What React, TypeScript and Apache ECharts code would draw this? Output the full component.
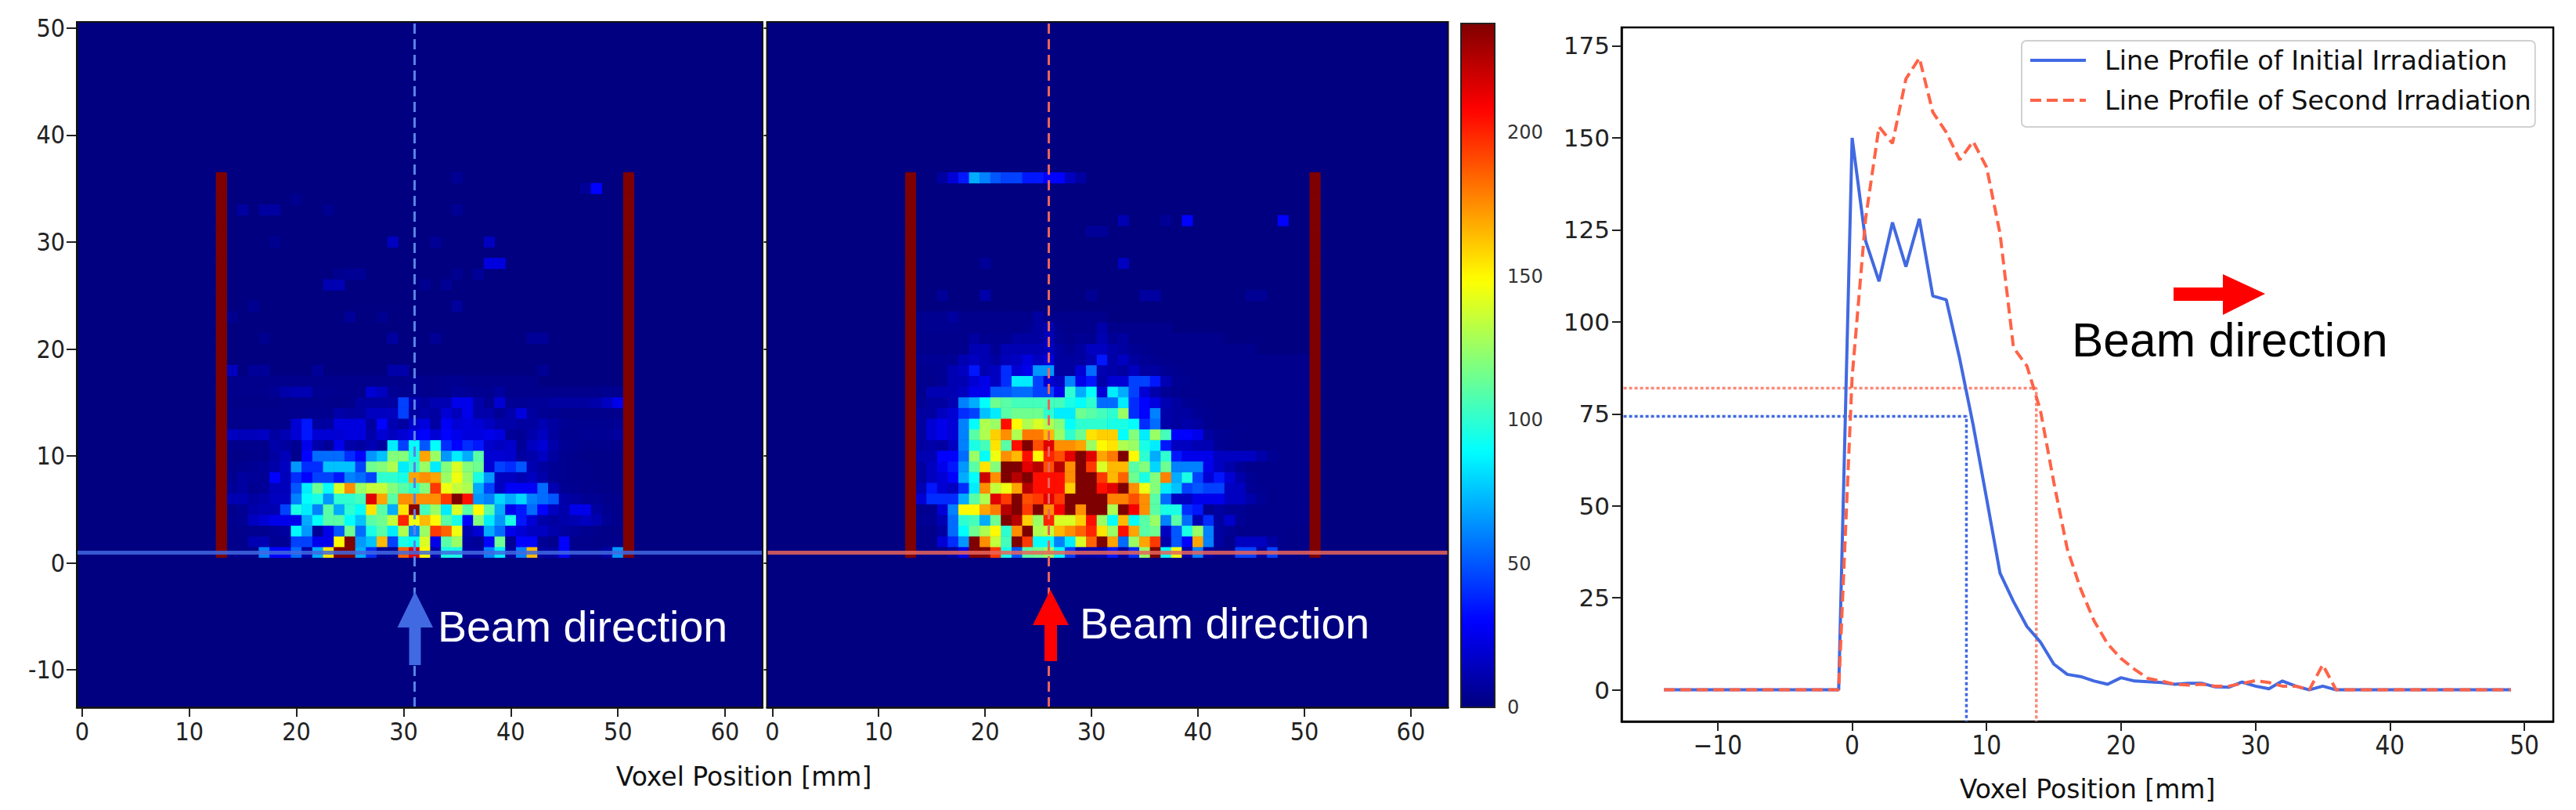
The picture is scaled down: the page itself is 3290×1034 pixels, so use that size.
import React, { useEffect, useRef } from "react";
import * as echarts from "echarts";

const CATEGORIES_X = Array.from({ length: 64 }, (_, i) => String(i));
const CATEGORIES_Y = Array.from({ length: 64 }, (_, i) => String(i - 13));
const HEAT_MAX = 238;
const WALL_COLUMNS = [13, 51];
const WALL_TOP_ROW = 36;
const FIRST_COLUMN = 14;

// rows start at y = 1, first value is column 14
const FIRST_DENSE: number[][] = [
  [3,3,3,60,30,30,55,10,70,155,238,238,70,40,5,5,185,215,150,10,95,95,8,8,60,85,8,60,165,8,8,30,4,4,3,8,65],
  [3,3,12,12,5,5,45,45,25,25,150,238,65,75,165,45,95,90,140,25,110,125,8,5,30,115,5,30,30,5,3,30,3,3,2,2,3],
  [3,3,4,4,6,8,88,65,6,25,50,115,55,95,110,85,130,60,125,195,185,145,12,20,70,55,25,20,15,15,10,8,6,4,3,2,2],
  [4,5,15,20,25,25,25,70,90,110,110,90,75,110,115,135,200,145,165,150,110,95,30,120,85,65,95,35,20,10,8,10,12,15,12,5,3],
  [3,5,10,12,12,45,95,85,60,110,70,100,90,155,110,70,155,235,105,125,85,140,110,150,110,70,25,35,55,30,15,10,25,25,8,4,3],
  [12,12,8,10,15,15,60,90,95,65,100,100,105,215,170,110,175,175,175,175,195,238,205,65,60,80,70,80,60,55,50,10,8,5,5,3,3],
  [6,8,4,6,14,14,50,85,115,90,140,175,125,135,135,120,110,100,120,195,145,135,130,70,45,15,28,28,28,55,12,5,4,3,3,2,2],
  [4,8,6,5,30,14,40,30,45,45,35,60,55,45,100,100,95,170,175,170,125,145,125,95,65,15,15,12,15,10,5,4,3,3,2,2,2],
  [3,4,5,6,10,15,65,40,40,75,75,75,45,115,120,130,85,100,125,85,120,140,120,115,20,45,40,50,12,8,5,4,3,3,2,2,2],
  [2,2,3,3,8,14,3,30,55,55,55,40,30,65,75,120,120,95,170,125,65,85,70,110,20,20,18,8,10,15,8,4,3,2,2,2,2],
  [3,3,3,3,10,8,4,25,10,6,25,10,8,12,8,85,45,90,50,90,40,30,40,35,18,15,18,6,15,20,10,5,4,3,3,3,3],
  [15,14,14,16,8,12,20,35,20,20,20,22,22,10,20,15,20,25,30,20,30,25,22,22,25,22,6,5,10,15,8,4,4,5,5,5,8],
  [3,3,3,3,3,3,20,35,8,8,22,22,22,8,30,12,8,18,22,8,28,20,22,20,15,10,10,8,8,12,8,5,4,4,4,4,5],
  [3,3,3,3,3,3,3,4,4,4,10,8,8,15,15,15,45,8,10,8,20,14,25,10,10,5,10,22,8,5,4,3,3,3,3,3,3],
  [2,2,2,2,2,3,3,3,3,3,2,3,8,8,8,8,45,12,8,12,12,25,25,10,5,20,5,5,6,6,8,8,8,8,10,15,25],
  [3,3,3,3,5,10,12,12,4,4,3,3,3,20,15,5,4,4,3,3,4,6,5,4,4,8,3,3,3,3,3,3,3,3,3,4,4],
  [3,3,3,3,3,3,3,3,3,3,3,3,3,3,3,3,3,4,3,3,4,4,3,3,3,3,3,3,3],
];
// [column, y, value]
const FIRST_SPARSE: number[][] = [
  [14,18,15],[16,18,6],[17,18,6],[22,18,6],[29,18,10],[30,18,10],[43,18,5],
  [17,21,4],[29,21,8],[33,21,5],[42,21,6],[43,21,6],
  [14,23,4],[25,23,6],[28,23,4],[16,24,4],[35,24,7],
  [23,26,12],[24,26,12],[32,26,4],[34,26,5],
  [24,27,4],[25,27,5],[26,27,5],[35,27,4],[37,27,6],
  [38,28,22],[39,28,22],
  [18,30,4],[29,30,15],[33,30,5],[38,30,15],
  [15,33,8],[17,33,8],[18,33,8],[23,33,4],[35,33,5],
  [20,34,4],[47,35,6],[48,35,30],[35,36,5],
];

const SECOND_DENSE: number[][] = [
  [3,3,3,8,25,238,238,195,95,50,110,115,125,90,45,10,10,12,35,8,40,125,238,90,145,10,60,8,3,3,45,45,8,45,3,2,2],
  [3,3,20,40,65,238,175,135,105,238,195,90,90,60,85,140,185,238,170,55,125,170,195,10,50,30,170,60,8,3,15,15,15,8,3,2,2],
  [3,3,8,55,90,115,130,150,100,175,238,130,135,165,175,185,200,155,125,205,170,110,115,15,50,95,125,60,8,5,3,3,3,3,3,2,2],
  [5,5,12,55,100,105,70,115,238,225,160,125,200,140,140,160,205,125,90,165,90,110,125,60,110,55,12,40,8,18,5,3,3,3,3,3,3],
  [4,4,20,60,150,150,170,180,225,238,195,238,175,210,238,175,238,238,130,238,210,175,110,95,95,40,35,5,8,5,5,3,3,3,3,3,3],
  [20,40,40,40,70,110,130,215,195,238,190,195,215,195,238,238,238,238,178,178,190,175,110,55,15,15,25,25,25,15,15,10,5,3,3,3,3],
  [12,35,20,15,40,85,175,135,145,170,225,205,205,205,160,238,238,205,215,238,175,145,120,85,75,45,50,45,45,15,15,5,4,3,3,3,3],
  [8,15,20,30,70,90,220,175,238,225,238,205,205,205,175,238,238,195,165,185,115,95,120,178,70,95,45,20,35,20,10,5,3,3,3,3,3],
  [8,15,25,35,65,110,155,120,238,238,215,225,190,225,175,238,195,140,165,165,110,120,80,115,60,60,60,25,15,10,5,3,3,3,3,3,3],
  [12,12,30,30,55,125,90,145,175,165,205,150,200,190,215,238,215,170,180,238,150,100,70,100,35,25,25,25,15,15,15,15,10,5,3,3,3],
  [8,10,8,15,60,95,105,155,110,205,238,190,215,175,175,170,125,150,155,130,125,95,85,35,15,15,12,12,5,4,3,3,3,3,3,3,3],
  [8,20,25,20,60,110,130,160,175,130,180,180,165,125,100,115,155,160,160,90,120,85,125,105,30,30,25,8,5,4,3,3,3,3,3,3,3],
  [8,20,25,20,60,90,130,125,205,150,130,140,130,120,90,100,100,100,95,95,90,40,55,10,8,10,8,4,3,3,3,3,3,3,3,3,3],
  [8,8,15,20,40,45,75,85,110,115,115,115,100,85,85,115,110,105,100,125,40,30,60,10,8,8,5,4,3,3,3,3,3,3,3,3,3],
  [5,8,8,12,60,70,90,115,110,105,105,105,105,105,95,90,100,55,55,85,40,30,22,12,8,5,4,3,3,3,3,3,3,3,3,3,3],
  [4,12,12,12,15,25,25,50,50,55,55,45,45,25,100,70,90,20,85,70,45,20,10,5,4,3,3,3,3,3,3,3,3,3,3,3,3],
  [4,3,5,12,12,20,25,15,40,85,85,45,20,15,60,25,35,10,20,20,45,45,35,12,5,4,3,3,3,3,3,3,3,3,3,3,3],
  [4,4,5,12,15,35,12,15,40,20,25,65,65,8,8,20,55,12,10,8,15,8,8,5,4,3,3,3,3,3,3,3,3,3,3,3,3],
  [5,5,5,5,12,15,12,8,14,15,22,15,22,8,8,8,12,35,10,15,8,5,4,3,3,3,3,3,3,3,3,3,3,3,3,3,3],
  [3,3,3,3,3,12,12,5,12,12,12,12,15,8,5,8,15,15,10,8,5,4,3,3,3,3,3,3,3,3,3,3],
  [3,3,3,3,3,8,4,4,4,8,8,8,14,5,3,5,4,12,5,8,3,3,3,3,3,3,3,3,3],
  [4,4,4,4,3,3,3,3,3,3,4,8,12,4,3,3,3,10,3,3,3,3,3,3],
  [4,4,4,8,3,3,3,3,3,3,3,8,3,3,3,3,3,3],
];
const SECOND_SPARSE: number[][] = [
  [16,25,6],[20,25,10],[30,25,5],[35,25,8],[36,25,8],[45,25,5],[46,25,5],
  [20,28,6],[33,28,15],
  [30,31,6],[31,31,6],
  [33,32,12],[37,32,5],[39,32,30],[48,32,30],
  [16,36,8],[17,36,20],[18,36,35],[19,36,70],[20,36,60],[21,36,50],[22,36,45],[23,36,45],[24,36,35],[25,36,35],[26,36,30],[27,36,30],[28,36,15],[29,36,8],
];

const COLORBAR_TICKS = [0, 50, 100, 150, 200];
const JET = ["#00007f", "#0000ff", "#007fff", "#00ffff", "#7fff7f", "#ffff00", "#ff7f00", "#ff0000", "#7f0000"];

// line profile, x from -14 to 49
const PROFILE_X = Array.from({ length: 64 }, (_, i) => i - 14);
const INITIAL_PROFILE = [0,0,0,0,0,0,0,0,0,0,0,0,0,0,150,122,111,127,115,128,107,106,90,72,52,31.7,24,17.2,13,7,4.2,3.6,2.4,1.5,3.3,2.4,2.2,2,1.5,1.8,1.8,0.8,0.7,2.1,1,0.3,2.4,1,0,1,0,0,0,0,0,0,0,0,0,0,0,0,0,0];
const SECOND_PROFILE = [0,0,0,0,0,0,0,0,0,0,0,0,0,0,85,128,153,148.5,166,171.7,157,151.5,144,149,142,124,93,88,76,56.4,38.3,27.4,18.7,12.5,8.5,5.6,3.1,2.4,1.5,1.3,1.5,1,1,1.7,2.5,2,1,1,0,6.8,0,0,0,0,0,0,0,0,0,0,0,0,0,0];
const GUIDE_INITIAL = [[-17,74.3],[8.5,74.3],[8.5,-8.6]];
const GUIDE_SECOND = [[-17,82],[13.7,82],[13.7,-8.6]];
const PROFILE_X_TICKS = [-10, 0, 10, 20, 30, 40, 50];
const PROFILE_Y_TICKS = [0, 25, 50, 75, 100, 125, 150, 175];

const LEGEND_INITIAL = "Line Profile of Initial Irradiation";
const LEGEND_SECOND = "Line Profile of Second Irradiation";
const AXIS_NAME = "Voxel Position [mm]";
const BEAM_LABEL = "Beam direction";

const BLUE = "#4169E1";
const TOMATO = "#FF6347";
const BLUE_GUIDE = "#5a82e6";
const RED_GUIDE = "#e8655a";
const NARROW = "'DejaVu Sans Condensed', 'Liberation Sans', sans-serif";
const DEJAVU = "'DejaVu Sans', sans-serif";

function cells(dense: number[][], sparse: number[][]) {
  const out: number[][] = [];
  const xi = (c: number) => c;
  const yi = (y: number) => y + 13;
  for (let r = 0; r < dense.length; r++) {
    dense[r].forEach((v, i) => out.push([xi(FIRST_COLUMN + i), yi(r + 1), v]));
  }
  sparse.forEach(([c, y, v]) => out.push([xi(c), yi(y), v]));
  WALL_COLUMNS.forEach((c) => {
    for (let y = 1; y <= WALL_TOP_ROW; y++) out.push([xi(c), yi(y), HEAT_MAX]);
  });
  return out;
}

const isDecade = (_i: number, v: string) => Number(v) % 10 === 0;

function heatXAxis(gridIndex: number) {
  return {
    type: "category", gridIndex, data: CATEGORIES_X,
    axisLine: { show: true, lineStyle: { color: "#111", width: 2.5 } },
    axisTick: { show: true, alignWithLabel: true, interval: isDecade, length: 12, lineStyle: { color: "#222", width: 2 } },
    axisLabel: { show: true, interval: isDecade, margin: 15, fontFamily: NARROW, fontSize: 32, color: "#222" },
    splitLine: { show: false },
  };
}

function App() {
  const ref = useRef<HTMLDivElement>(null);
  useEffect(() => {
    document.body.style.margin = "0";
    const chart = echarts.init(ref.current!, undefined, { renderer: "svg" });
    const heatGrid = { show: true, backgroundColor: "#000080", borderWidth: 0, containLabel: false };
    const option: any = {
      animation: false,
      backgroundColor: "#fff",
      grid: [
        { ...heatGrid, left: 98, top: 29, width: 876, height: 874 },
        { ...heatGrid, left: 979.5, top: 29, width: 870, height: 874 },
        { show: false, left: 1866, top: 30, width: 43, height: 873 },
        { show: true, left: 2071, top: 35, width: 1190, height: 886, backgroundColor: "#fff", borderColor: "#000", borderWidth: 2.5 },
      ],
      xAxis: [
        heatXAxis(0),
        heatXAxis(1),
        { type: "value", gridIndex: 2, show: false, min: 0, max: 1 },
        {
          type: "value", gridIndex: 3, min: -17.15, max: 52.15,
          name: AXIS_NAME, nameLocation: "middle", nameGap: 70,
          nameTextStyle: { fontFamily: DEJAVU, fontSize: 33, color: "#111" },
          axisLine: { show: true, onZero: false, lineStyle: { color: "#000", width: 2.5 } },
          axisTick: { show: true, customValues: PROFILE_X_TICKS, length: 12, lineStyle: { color: "#222", width: 2 } },
          axisLabel: { show: true, customValues: PROFILE_X_TICKS, margin: 14, fontFamily: NARROW, fontSize: 33, color: "#222",
            formatter: (v: number) => String(v).replace("-", "\u2212") },
          splitLine: { show: false },
        },
      ],
      yAxis: [
        {
          type: "category", gridIndex: 0, data: CATEGORIES_Y,
          axisLine: { show: true, lineStyle: { color: "#111", width: 2.5 } },
          axisTick: { show: true, alignWithLabel: true, interval: isDecade, length: 13, lineStyle: { color: "#222", width: 2 } },
          axisLabel: { show: true, interval: isDecade, margin: 15, fontFamily: NARROW, fontSize: 32, color: "#222" },
          splitLine: { show: false },
        },
        {
          type: "category", gridIndex: 1, data: CATEGORIES_Y,
          axisLine: { show: false },
          axisTick: { show: true, alignWithLabel: true, interval: isDecade, length: 4, lineStyle: { color: "#222", width: 2 } },
          axisLabel: { show: false },
          splitLine: { show: false },
        },
        {
          type: "value", gridIndex: 2, position: "right", min: 0, max: HEAT_MAX,
          axisLine: { show: false },
          axisTick: { show: true, customValues: COLORBAR_TICKS, length: 11, lineStyle: { color: "#333", width: 1.5 } },
          axisLabel: { show: true, customValues: COLORBAR_TICKS, margin: 16, fontFamily: DEJAVU, fontSize: 24, color: "#333" },
          splitLine: { show: false },
        },
        {
          type: "value", gridIndex: 3, min: -8.6, max: 180,
          axisLine: { show: true, onZero: false, lineStyle: { color: "#000", width: 2.5 } },
          axisTick: { show: true, customValues: PROFILE_Y_TICKS, length: 12, lineStyle: { color: "#222", width: 2 } },
          axisLabel: { show: true, customValues: PROFILE_Y_TICKS, margin: 15, fontFamily: DEJAVU, fontSize: 31, color: "#222" },
          splitLine: { show: false },
        },
      ],
      visualMap: {
        type: "continuous", min: 0, max: HEAT_MAX, seriesIndex: [0, 1], dimension: 2,
        show: true, calculable: false, realtime: false, orient: "vertical",
        left: 1866, top: 30, itemWidth: 43, itemHeight: 873, padding: 0, text: null, showLabel: false,
        inRange: { color: JET },
        textStyle: { fontSize: 1, color: "transparent" },
      },
      legend: {
        show: true, orient: "vertical", left: 2582, top: 52,
        padding: [8, 5, 17, 9], itemWidth: 71, itemHeight: 14, itemGap: 17,
        backgroundColor: "#fff", borderColor: "#d0d0d0", borderWidth: 2, borderRadius: 6,
        itemStyle: { opacity: 0, color: "transparent", borderWidth: 0 },
        lineStyle: { width: 4 },
        textStyle: { fontFamily: DEJAVU, fontSize: 33.5, color: "#111", padding: [0, 0, 0, 19] },
        data: [LEGEND_INITIAL, LEGEND_SECOND],
      },
      series: [
        {
          type: "heatmap", xAxisIndex: 0, yAxisIndex: 0, data: cells(FIRST_DENSE, FIRST_SPARSE),
          markLine: {
            silent: true, symbol: "none", label: { show: false }, animation: false,
            data: [
              { xAxis: "31", lineStyle: { color: BLUE_GUIDE, width: 3, type: [13, 7] } },
              { yAxis: "1", lineStyle: { color: BLUE, width: 5, type: "solid", opacity: 0.85 } },
            ],
          },
        },
        {
          type: "heatmap", xAxisIndex: 1, yAxisIndex: 1, data: cells(SECOND_DENSE, SECOND_SPARSE),
          markLine: {
            silent: true, symbol: "none", label: { show: false }, animation: false,
            data: [
              { xAxis: "26", lineStyle: { color: RED_GUIDE, width: 3, type: [13, 7] } },
              { yAxis: "1", lineStyle: { color: RED_GUIDE, width: 5, type: "solid", opacity: 0.85 } },
            ],
          },
        },
        {
          type: "line", name: "guide initial", xAxisIndex: 3, yAxisIndex: 3, data: GUIDE_INITIAL,
          showSymbol: false, silent: true, lineStyle: { color: BLUE, width: 3.5, type: [4, 3] },
        },
        {
          type: "line", name: "guide second", xAxisIndex: 3, yAxisIndex: 3, data: GUIDE_SECOND,
          showSymbol: false, silent: true, lineStyle: { color: "#fa8a78", width: 3.5, type: [4, 3] },
        },
        {
          type: "line", name: LEGEND_INITIAL, xAxisIndex: 3, yAxisIndex: 3,
          data: PROFILE_X.map((x, i) => [x, INITIAL_PROFILE[i]]),
          showSymbol: false, symbol: "none", lineStyle: { color: BLUE, width: 4 }, itemStyle: { color: BLUE },
        },
        {
          type: "line", name: LEGEND_SECOND, xAxisIndex: 3, yAxisIndex: 3,
          data: PROFILE_X.map((x, i) => [x, SECOND_PROFILE[i]]),
          showSymbol: false, symbol: "none", lineStyle: { color: TOMATO, width: 4, type: [14, 7] }, itemStyle: { color: TOMATO },
        },
      ],
      graphic: [
        { type: "rect", z: 50, silent: true, shape: { x: 98, y: 28, width: 876, height: 875 }, style: { fill: "none", stroke: "#111", lineWidth: 2 } },
        { type: "rect", z: 50, silent: true, shape: { x: 979.5, y: 28, width: 870, height: 875 }, style: { fill: "none", stroke: "#111", lineWidth: 2 } },
        { type: "rect", z: 50, silent: true, shape: { x: 1866, y: 30, width: 43, height: 873 }, style: { fill: "none", stroke: "#222", lineWidth: 2 } },
        { type: "text", z: 60, x: 950, y: 991, style: { text: AXIS_NAME, fontFamily: DEJAVU, fontSize: 33, fill: "#111", align: "center", verticalAlign: "middle" } },
        { type: "polygon", z: 60, shape: { points: [[530, 755], [553, 801], [537.5, 801], [537.5, 849], [522.5, 849], [522.5, 801], [507.5, 801]] }, style: { fill: BLUE } },
        { type: "polygon", z: 60, shape: { points: [[1341.5, 753], [1365, 798], [1350, 798], [1350, 844], [1334, 844], [1334, 798], [1319, 798]] }, style: { fill: "#ff0000" } },
        { type: "polygon", z: 60, shape: { points: [[2893, 375], [2839, 350], [2839, 367], [2776, 367], [2776, 384], [2839, 384], [2839, 402]] }, style: { fill: "#ff0000" } },
        { type: "text", z: 60, x: 559, y: 828, style: { text: BEAM_LABEL, fontFamily: "'Liberation Sans', sans-serif", fontSize: 55.5, fill: "#fff", align: "left", verticalAlign: "bottom" } },
        { type: "text", z: 60, x: 1379, y: 824, style: { text: BEAM_LABEL, fontFamily: "'Liberation Sans', sans-serif", fontSize: 55.5, fill: "#fff", align: "left", verticalAlign: "bottom" } },
        { type: "text", z: 60, x: 2646, y: 464, style: { text: BEAM_LABEL, fontFamily: "'Liberation Sans', sans-serif", fontSize: 60.5, fill: "#000", align: "left", verticalAlign: "bottom" } },
      ],
    };
    chart.setOption(option);
    return () => chart.dispose();
  }, []);
  return <div ref={ref} style={{ width: 3290, height: 1034, background: "#fff" }} />;
}

export default App;
